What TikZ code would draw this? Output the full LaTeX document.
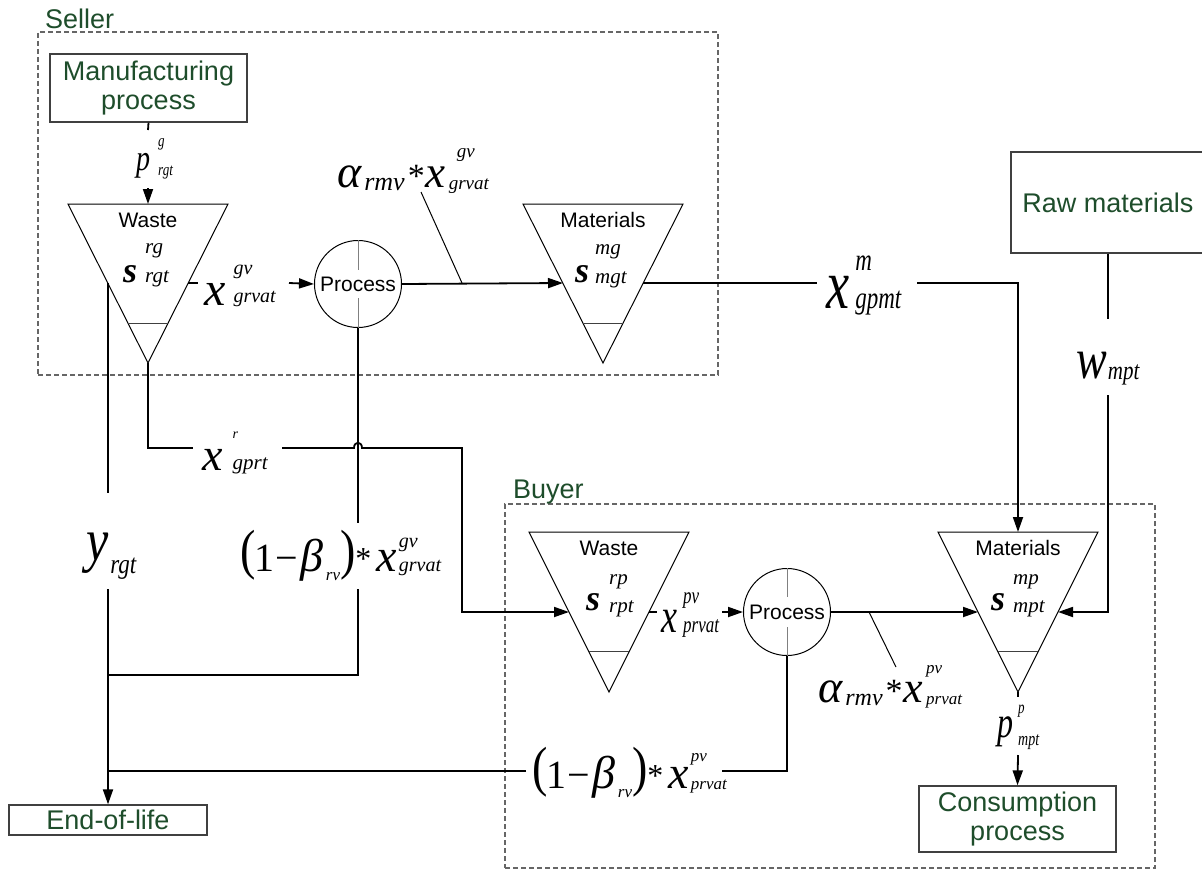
\documentclass[tikz,border=0pt]{standalone}
\usepackage{fontspec}
\usepackage{graphicx}
\setmainfont{Liberation Sans}
\newfontfamily\tms{Liberation Serif}
\usetikzlibrary{arrows.meta}
\definecolor{grn}{HTML}{1E4D2B}
\definecolor{dgray}{HTML}{404040}
\definecolor{bgray}{HTML}{666666}
\definecolor{tgray}{HTML}{808080}
% base size, base, gap, script size, sup, sup raise, sub, sub raise
\newcommand{\ML}[8]{{\tms\itshape\fontsize{#1}{#1}\selectfont #2}\hspace{#3}{\tms\itshape\fontsize{#4}{#4}\selectfont\rlap{\raisebox{#6}{#5}}\raisebox{#8}{#7}}}
% alpha label
\newcommand{\AL}[7]{{\tms\itshape\fontsize{#1}{#1}\selectfont α}\kern3pt{\tms\itshape\fontsize{#2}{#2}\selectfont\raisebox{-3pt}{rmv}}\kern3pt{\tms\fontsize{34}{34}\selectfont *}\kern1pt\ML{#3}{x}{3pt}{#4}{#5}{#7}{#6}{-2pt}}
% beta label
\newcommand{\BL}[5]{{\tms\fontsize{46}{46}\selectfont\raisebox{3pt}{\scalebox{1}[1.2]{(}}\kern-1pt{\fontsize{40}{40}\selectfont 1\kern1pt−}\kern2pt{\itshape β}\kern3pt{\itshape\fontsize{17}{17}\selectfont\raisebox{-9pt}{rv}}\raisebox{3pt}{\scalebox{1}[1.2]{)}}{\fontsize{32}{32}\selectfont\raisebox{2pt}{*}}\kern5pt\ML{46pt}{x}{2pt}{#3}{#1}{#4}{#2}{#5}}}
\tikzset{
  conn/.style={line width=1.8pt, black},
  arr/.style={conn, -{Triangle[length=15pt,width=10pt]}},
  thinln/.style={line width=1pt, black},
  innerln/.style={line width=1pt, dgray},
  tick/.style={line width=1pt, tgray},
  gbox/.style={draw=dgray, line width=1.3pt, text=grn, font=\fontsize{27}{29}\selectfont, align=center, inner sep=0pt},
  grp/.style={draw=bgray, line width=1.3pt, dash pattern=on 5pt off 3pt, inner sep=0pt},
  proc/.style={circle, draw, line width=1pt, minimum size=87pt, inner sep=0pt, font=\fontsize{21}{21}\selectfont},
  lbl/.style={inner sep=0pt, anchor=base west},
  ttl/.style={inner sep=0pt, font=\fontsize{21}{21}\selectfont},
  grptitle/.style={inner sep=0pt, anchor=base west, text=grn, font=\fontsize{27}{27}\selectfont},
}
\begin{document}
\begin{tikzpicture}[x=1pt,y=-1pt]
\useasboundingbox (0,0) rectangle (1202,870);
% groups
\node[grp, minimum width=680pt, minimum height=343pt] (seller) at (378,203.5) {};
\node[grptitle] (tseller) at (45,28) {Seller};
\node[grp, minimum width=650pt, minimum height=364pt] (buyer) at (830,686) {};
\node[grptitle] (tbuyer) at (513,498) {Buyer};
% boxes
\node[gbox, minimum width=197pt, minimum height=68pt] (mfg) at (148.5,88) {Manufacturing\\process};
\node[gbox, minimum width=214pt, minimum height=101pt] (raw) at (1118,202.5) {\hspace*{-20pt}Raw materials};
\node[gbox, minimum width=198pt, minimum height=30pt] (eol) at (108,820) {End-of-life};
\node[gbox, minimum width=197pt, minimum height=66pt] (cons) at (1017.5,819) {Consumption\\process};
% tanks
\coordinate (ws1) at (68,204); \coordinate (ws2) at (228,204); \coordinate (wsA) at (148,363);
\draw[thinln] (ws1) -- (ws2) -- (wsA) -- cycle; \draw[innerln] (128,323) -- (168,323);
\coordinate (ms1) at (523,204); \coordinate (ms2) at (683,204); \coordinate (msA) at (603,363);
\draw[thinln] (ms1) -- (ms2) -- (msA) -- cycle; \draw[innerln] (583,323) -- (623,323);
\coordinate (wb1) at (529,532); \coordinate (wb2) at (689,532); \coordinate (wbA) at (609,692);
\draw[thinln] (wb1) -- (wb2) -- (wbA) -- cycle; \draw[innerln] (589,651) -- (629,651);
\coordinate (mb1) at (938,532); \coordinate (mb2) at (1098,532); \coordinate (mbA) at (1018,692);
\draw[thinln] (mb1) -- (mb2) -- (mbA) -- cycle; \draw[innerln] (998,651) -- (1038,651);
\node[ttl] (tws) at (148,220) {Waste};
\node[ttl] (tms) at (603,220) {Materials};
\node[ttl] (twb) at (609,548) {Waste};
\node[ttl] (tmb) at (1018,548) {Materials};
% process circles
\node[proc] (pS) at (358,284) {Process};
\draw[tick] (pS.north) -- ++(0,30); \draw[tick] (pS.south) -- ++(0,-30);
\node[proc] (pB) at (787,612) {Process};
\draw[tick] (pB.north) -- ++(0,29); \draw[tick] (pB.south) -- ++(0,-29);
% ports
\coordinate (wsT) at (148,204); \coordinate (wsL) at (108,283); \coordinate (wsR) at (188,283);
\coordinate (msL) at (563,283); \coordinate (msR) at (643,283);
\coordinate (wbL) at (569,612); \coordinate (wbR) at (649,612);
\coordinate (mbT) at (1018,532); \coordinate (mbL) at (978,612); \coordinate (mbR) at (1058,612);
% gap ends and corners
\coordinate (g1) at (148,130); \coordinate (g2) at (148,188);
\coordinate (g3) at (198,283); \coordinate (g4) at (289,283);
\coordinate (g5) at (462,283); \coordinate (g6) at (421,192);
\coordinate (g7) at (817,283); \coordinate (g8) at (917,283); \coordinate (k1) at (1018,283);
\coordinate (g9) at (1108,319); \coordinate (g10) at (1108,395); \coordinate (k2) at (1108,612);
\coordinate (g11) at (108,493); \coordinate (g12) at (108,589);
\coordinate (k3) at (148,448); \coordinate (g13) at (193,448); \coordinate (g14) at (282,448);
\coordinate (k4) at (462,448); \coordinate (k5) at (462,612);
\coordinate (g15) at (358,523); \coordinate (g16) at (358,589);
\coordinate (k6) at (358,675); \coordinate (k7) at (108,675);
\coordinate (g17) at (657,612); \coordinate (g18) at (722,612);
\coordinate (g19) at (869,612); \coordinate (g20) at (896,667);
\coordinate (k8) at (787,771); \coordinate (g21) at (722,771); \coordinate (g22) at (526,771); \coordinate (k9) at (108,771);
\coordinate (g23) at (1018,697); \coordinate (g24) at (1018,755);
% connectors
\draw[conn] (mfg.south) -- (g1);
\draw[arr] (g2) -- (wsT);
\draw[conn] (wsR) -- (g3);
\draw[arr] (g4) -- (pS.west);
\draw[arr] (pS.east) -- (msL);
\draw[thinln] (g5) -- (g6);
\draw[conn] (msR) -- (g7);
\draw[arr] (g8) -- (k1) -- (mbT);
\draw[conn] (g9 |- raw.south) -- (g9);
\draw[arr] (g10) -- (k2) -- (mbR);
\draw[conn] (wsL) -- (g11);
\draw[arr] (g12) -- (eol.north);
\draw[conn] (wsA) -- (k3) -- (g13);
\draw[arr] (g14) -- (354,448) .. controls (354,441) and (362,441) .. (362,448) -- (k4) -- (k5) -- (wbL);
\draw[conn] (pS.south) -- (g15);
\draw[conn] (g16) -- (k6) -- (k7);
\draw[conn] (wbR) -- (g17);
\draw[arr] (g18) -- (pB.west);
\draw[arr] (pB.east) -- (mbL);
\draw[thinln] (g19) -- (g20);
\draw[conn] (pB.south) -- (k8) -- (g21);
\draw[conn] (g22) -- (k9);
\draw[conn] (mbA) -- (g23);
\draw[arr] (g24) -- (cons.north);
% labels
\node[lbl] (lpg) at (136,170) {\scalebox{1}[1.3]{\ML{28pt}{p}{8pt}{13pt}{g}{18pt}{rgt}{-4pt}}};
\node[lbl] (lsws) at (123,282) {\ML{36pt}{\bfseries s}{8pt}{21pt}{rg}{29pt}{rgt}{0pt}};
\node[lbl] (lsms) at (575,282) {\ML{36pt}{\bfseries s}{6pt}{21pt}{mg}{28pt}{mgt}{-1pt}};
\node[lbl] (lswb) at (586,610) {\ML{36pt}{\bfseries s}{9pt}{21pt}{rp}{26pt}{rpt}{-2pt}};
\node[lbl] (lsmb) at (991,610) {\ML{36pt}{\bfseries s}{8pt}{21pt}{mp}{26pt}{mpt}{-2pt}};
\node[lbl] (lxgv) at (204,305) {\ML{48pt}{x}{8pt}{20pt}{gv}{31pt}{grvat}{3pt}};
\node[lbl] (las) at (337,187) {\AL{46pt}{26pt}{45pt}{19pt}{\hspace{8pt}gv}{grvat}{30pt}};
\node[lbl] (lab) at (818,702) {\AL{46pt}{24pt}{44pt}{17pt}{pv}{prvat}{29pt}};
\node[lbl] (lxm) at (826,308) {\scalebox{1}[1.35]{\ML{52pt}{x}{6pt}{23pt}{m}{28pt}{gpmt}{0pt}}};
\node[lbl] (lw) at (1076,378) {\scalebox{1}[1.25]{\ML{46pt}{w}{1pt}{21pt}{}{0pt}{mpt}{-1pt}}};
\node[lbl] (ly) at (86,560) {\scalebox{1}[1.2]{\ML{50pt}{y}{2pt}{23pt}{}{0pt}{rgt}{-11pt}}};
\node[lbl] (lxr) at (202,470) {\ML{46pt}{x}{10pt}{14pt}{r}{32pt}{\fontsize{21}{21}\selectfont gprt}{1pt}};
\node[lbl] (lxpv) at (661,632) {\scalebox{1}[1.35]{\ML{36pt}{x}{6pt}{17pt}{pv}{21pt}{prvat}{0pt}}};
\node[lbl] (lpp) at (997,737) {\scalebox{1}[1.38]{\ML{32pt}{p}{5pt}{14pt}{\fontsize{13}{13}\selectfont p}{17pt}{mpt}{-6.5pt}}};
\node[lbl] (lbs) at (240,571) {\BL{gv}{grvat}{20pt}{24pt}{0pt}};
\node[lbl] (lbb) at (532,788) {\BL{pv}{prvat}{17pt}{27pt}{-1pt}};
\end{tikzpicture}
\end{document}
